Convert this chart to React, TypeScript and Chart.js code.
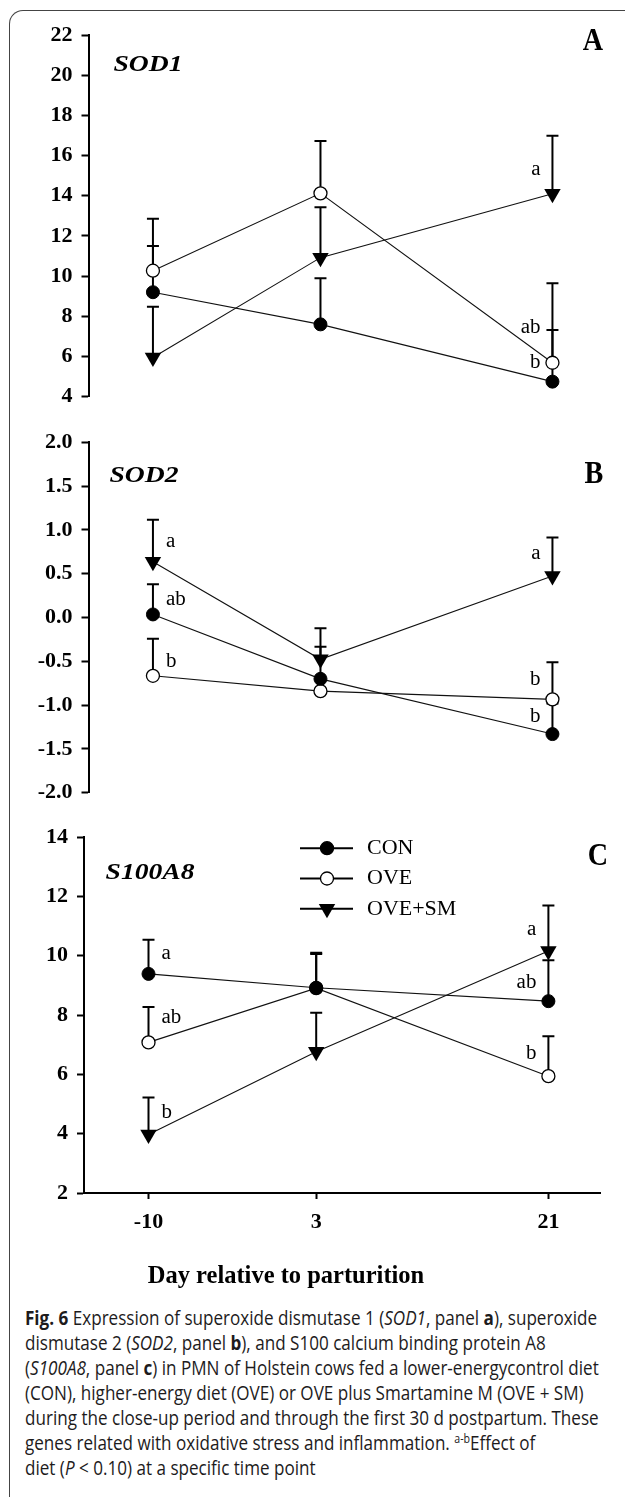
import React, { useEffect, useLayoutEffect, useRef } from 'react';
import { Chart, registerables } from 'chart.js';

Chart.register(...registerables);

// ---------- data ----------
const DAYS = [-10, 3, 21];
const SERIES = ['CON', 'OVE', 'OVE+SM'];
const X_RANGE = [-15, 25];

// Panel A – SOD1 (min, max, step)
const SOD1_AXIS = [4, 22, 2];
const SOD1_CON = [9.2, 7.6, 4.75];
const SOD1_OVE = [10.27, 14.12, 5.69];
const SOD1_SM = [5.95, 10.92, 14.1];
const SOD1_CON_UP = [11.5, 9.89, 7.32];
const SOD1_OVE_UP = [12.85, 16.73, 9.64];
const SOD1_SM_UP = [8.48, 13.43, 16.98];
const SOD1_LETTERS: [number, number, string][] = [
  [21, 15.28, 'a'],
  [21, 7.42, 'ab'],
  [21, 5.68, 'b'],
];

// Panel B – SOD2
const SOD2_AXIS = [-2, 2, 0.5];
const SOD2_CON = [0.035, -0.7, -1.33];
const SOD2_OVE = [-0.665, -0.84, -0.934];
const SOD2_SM = [0.635, -0.477, 0.474];
const SOD2_CON_UP = [0.378, -0.334, -0.98];
const SOD2_OVE_UP = [-0.242, null, -0.51];
const SOD2_SM_UP = [1.116, -0.123, 0.913];
const SOD2_LETTERS: [number, number, string][] = [
  [-10, 0.861, 'a'],
  [-10, 0.197, 'ab'],
  [-10, -0.5, 'b'],
  [21, 0.728, 'a'],
  [21, -0.71, 'b'],
  [21, -1.13, 'b'],
];

// Panel C – S100A8
const S100_AXIS = [2, 14, 2];
const S100_CON = [9.39, 8.92, 8.47];
const S100_OVE = [7.08, 8.91, 5.94];
const S100_SM = [3.97, 6.76, 10.16];
const S100_CON_UP = [10.54, 10.1, 9.85];
const S100_OVE_UP = [8.27, 10.06, 7.29];
const S100_SM_UP = [5.22, 8.08, 11.7];
const S100_LETTERS: [number, number, string][] = [
  [-10, 10.07, 'a'],
  [-10, 7.91, 'ab'],
  [-10, 4.69, 'b'],
  [21, 10.87, 'a'],
  [21, 9.08, 'ab'],
  [21, 6.68, 'b'],
];

const X_TITLE = 'Day relative to parturition';

// ---------- layout / style ----------
const W = 625;
const SERIF = "'Liberation Serif', 'Times New Roman', serif";
const Y_AXIS_W = 80;
const X_AXIS_H = 60;
const TRI_R = 9.5;
const CIRC_R = 6.5;

type Panel = {
  canvasTop: number;
  canvasH: number;
  area: [number, number, number, number]; // left, top, right, bottom
  axis: number[];
  decimals: number;
  values: number[][];
  upper: (number | null)[][];
  letters: [number, number, string][];
  title: string;
  titleAt: [number, number];
  tag: string;
  tagAt: [number, number];
  xAxis: boolean;
  legend: boolean;
};

const PANELS: Panel[] = [
  {
    canvasTop: 0, canvasH: 420, area: [88.5, 35, 604, 396.7], axis: SOD1_AXIS, decimals: 0,
    values: [SOD1_CON, SOD1_OVE, SOD1_SM], upper: [SOD1_CON_UP, SOD1_OVE_UP, SOD1_SM_UP],
    letters: SOD1_LETTERS, title: 'SOD1', titleAt: [25, 30], tag: 'A', tagAt: [-11, 7],
    xAxis: false, legend: false,
  },
  {
    canvasTop: 420, canvasH: 395, area: [88.5, 434, 604, 795.7], axis: SOD2_AXIS, decimals: 1,
    values: [SOD2_CON, SOD2_OVE, SOD2_SM], upper: [SOD2_CON_UP, SOD2_OVE_UP, SOD2_SM_UP],
    letters: SOD2_LETTERS, title: 'SOD2', titleAt: [21, 34], tag: 'B', tagAt: [-10, 33],
    xAxis: false, legend: false,
  },
  {
    canvasTop: 815, canvasH: 485, area: [84, 831.7, 600, 1193], axis: S100_AXIS, decimals: 0,
    values: [S100_CON, S100_OVE, S100_SM], upper: [S100_CON_UP, S100_OVE_UP, S100_SM_UP],
    letters: S100_LETTERS, title: 'S100A8', titleAt: [21.6, 36], tag: 'C', tagAt: [-2, 20],
    xAxis: true, legend: true,
  },
];

function stretchText(ctx: CanvasRenderingContext2D, text: string, x: number, y: number, font: string, align: CanvasTextAlign, sx: number) {
  ctx.save();
  ctx.font = font;
  ctx.textAlign = align;
  ctx.textBaseline = 'middle';
  ctx.translate(x, y);
  ctx.scale(sx, 1);
  ctx.fillText(text, 0, 0);
  ctx.restore();
}

function drawMarker(ctx: CanvasRenderingContext2D, kind: number, x: number, y: number) {
  ctx.save();
  ctx.strokeStyle = '#000';
  if (kind === 2) {
    ctx.fillStyle = '#000';
    ctx.beginPath();
    ctx.moveTo(x, y + TRI_R);
    ctx.lineTo(x - TRI_R * 0.866, y - TRI_R / 2);
    ctx.lineTo(x + TRI_R * 0.866, y - TRI_R / 2);
    ctx.closePath();
    ctx.fill();
  } else {
    ctx.fillStyle = kind === 0 ? '#000' : '#fff';
    ctx.lineWidth = 1.3;
    ctx.beginPath();
    ctx.arc(x, y, CIRC_R, 0, Math.PI * 2);
    ctx.fill();
    ctx.stroke();
  }
  ctx.restore();
}

function makePlugin(p: Panel) {
  return {
    id: 'panelExtras',
    beforeDatasetsDraw(chart: any) {
      const { ctx } = chart;
      const xs = chart.scales.x;
      const ys = chart.scales.y;
      ctx.save();
      ctx.strokeStyle = '#000';
      ctx.lineWidth = 2;
      p.upper.forEach((ups, i) =>
        ups.forEach((u, j) => {
          if (u == null) return;
          const x = xs.getPixelForValue(DAYS[j]);
          const y0 = ys.getPixelForValue(p.values[i][j]);
          const y1 = ys.getPixelForValue(u);
          ctx.beginPath();
          ctx.moveTo(x, y0);
          ctx.lineTo(x, y1);
          ctx.moveTo(x - 6, y1);
          ctx.lineTo(x + 6, y1);
          ctx.stroke();
        })
      );
      ctx.restore();
    },
    afterDraw(chart: any) {
      const { ctx, chartArea } = chart;
      const xs = chart.scales.x;
      const ys = chart.scales.y;
      ctx.save();
      ctx.fillStyle = '#000';
      // significance letters
      p.letters.forEach(([d, v, t]) => {
        const x = xs.getPixelForValue(d);
        const y = ys.getPixelForValue(v);
        const left = d < 0;
        stretchText(ctx, t, left ? x + 13 : x - 12, y, `20px ${SERIF}`, left ? 'left' : 'right', 1.05);
      });
      // gene title
      stretchText(ctx, p.title, chartArea.left + p.titleAt[0], chartArea.top + p.titleAt[1], `italic bold 24px ${SERIF}`, 'left', 1.15);
      // panel tag
      stretchText(ctx, p.tag, chartArea.right + p.tagAt[0], chartArea.top + p.tagAt[1], `bold 32px ${SERIF}`, 'center', 0.88);
      // legend
      if (p.legend) {
        const x0 = chartArea.left + 216;
        SERIES.forEach((name, i) => {
          const y = chartArea.top + 11 + i * 30.3;
          ctx.save();
          ctx.strokeStyle = '#000';
          ctx.lineWidth = 2;
          ctx.beginPath();
          ctx.moveTo(x0, y);
          ctx.lineTo(x0 + 53, y);
          ctx.stroke();
          ctx.restore();
          drawMarker(ctx, i, x0 + 27, y);
          stretchText(ctx, name, x0 + 67, y, `22px ${SERIF}`, 'left', 1.0);
        });
      }
      // x title
      if (p.xAxis) {
        stretchText(ctx, X_TITLE, 286, 1277 - p.canvasTop, `bold 25px ${SERIF}`, 'center', 0.98);
      }
      ctx.restore();
    },
  };
}

function makeChart(canvas: HTMLCanvasElement, p: Panel) {
  const [aL, aT, aR, aB] = p.area;
  const padding = {
    left: aL - Y_AXIS_W,
    top: aT - p.canvasTop,
    right: W - aR,
    bottom: p.canvasTop + p.canvasH - aB - (p.xAxis ? X_AXIS_H : 0),
  };
  const styles = [
    { pointStyle: 'circle', pointRadius: CIRC_R, pointBackgroundColor: '#000', pointBorderColor: '#000', pointBorderWidth: 1, pointRotation: 0 },
    { pointStyle: 'circle', pointRadius: CIRC_R, pointBackgroundColor: '#fff', pointBorderColor: '#000', pointBorderWidth: 1.3, pointRotation: 0 },
    { pointStyle: 'triangle', pointRadius: TRI_R, pointBackgroundColor: '#000', pointBorderColor: '#000', pointBorderWidth: 0, pointRotation: 180 },
  ];
  const tickFont = { family: SERIF, size: 22, weight: 'bold' as const };
  return new Chart(canvas, {
    type: 'line',
    data: {
      datasets: p.values.map((vals, i) => ({
        label: SERIES[i],
        data: DAYS.map((d, j) => ({ x: d, y: vals[j] })),
        borderColor: '#111',
        borderWidth: 1.1,
        fill: false,
        tension: 0,
        clip: false as any,
        ...styles[i],
      })) as any,
    },
    options: {
      responsive: false,
      animation: false,
      events: [],
      layout: { padding, autoPadding: false } as any,
      plugins: { legend: { display: false }, tooltip: { enabled: false }, title: { display: false } },
      scales: {
        x: p.xAxis
          ? {
              type: 'linear',
              min: X_RANGE[0],
              max: X_RANGE[1],
              afterBuildTicks: (s: any) => {
                s.ticks = DAYS.map((v) => ({ value: v }));
              },
              afterFit: (s: any) => {
                s.height = X_AXIS_H;
              },
              grid: { drawOnChartArea: false, drawTicks: true, tickLength: 6, tickWidth: 2, tickColor: '#000' },
              border: { display: true, color: '#000', width: 2 },
              ticks: { color: '#000', font: tickFont, padding: 10, maxRotation: 0, autoSkip: false, callback: (v: any) => String(v) },
            }
          : { type: 'linear', min: X_RANGE[0], max: X_RANGE[1], display: false },
        y: {
          type: 'linear',
          min: p.axis[0],
          max: p.axis[1],
          afterFit: (s: any) => {
            s.width = Y_AXIS_W;
          },
          grid: { drawOnChartArea: false, drawTicks: true, tickLength: 7, tickWidth: 2, tickColor: '#000' },
          border: { display: true, color: '#000', width: 2 },
          ticks: {
            stepSize: p.axis[2],
            autoSkip: false,
            color: '#000',
            font: tickFont,
            padding: 9,
            callback: (v: any) => Number(v).toFixed(p.decimals),
          },
        },
      } as any,
    },
    plugins: [makePlugin(p) as any],
  });
}

const CAPTION: React.ReactNode[] = [
  <><b>Fig. 6</b> Expression of superoxide dismutase 1 (<i>SOD1</i>, panel <b>a</b>), superoxide</>,
  <>dismutase 2 (<i>SOD2</i>, panel <b>b</b>), and S100 calcium binding protein A8</>,
  <>(<i>S100A8</i>, panel <b>c</b>) in PMN of Holstein cows fed a lower-energycontrol diet</>,
  <>(CON), higher-energy diet (OVE) or OVE plus Smartamine M (OVE + SM)</>,
  <>during the close-up period and through the first 30 d postpartum. These</>,
  <>genes related with oxidative stress and inflammation. <sup style={{ fontSize: '0.62em', verticalAlign: '0.55em', lineHeight: 0 }}>a-b</sup>Effect of</>,
  <>diet (<i>P</i> &lt; 0.10) at a specific time point</>,
];

export default function App() {
  const refs = [useRef<HTMLCanvasElement>(null), useRef<HTMLCanvasElement>(null), useRef<HTMLCanvasElement>(null)];
  const capRef = useRef<HTMLDivElement>(null);
  const line1Ref = useRef<HTMLSpanElement>(null);

  useEffect(() => {
    const charts = PANELS.map((p, k) => makeChart(refs[k].current!, p));
    return () => charts.forEach((c) => c.destroy());
  }, []);

  useLayoutEffect(() => {
    if (line1Ref.current && capRef.current) {
      const w = line1Ref.current.getBoundingClientRect().width;
      if (w > 0) capRef.current.style.transform = `scaleX(${572 / w})`;
    }
  }, []);

  return (
    <div style={{ position: 'absolute', left: 0, top: 0, width: W, height: 1497, overflow: 'hidden', background: '#fff' }}>
      <div
        style={{
          position: 'absolute', left: 9, top: 10, width: 700, height: 1600,
          borderTop: '1.5px solid #444', borderLeft: '1.5px solid #444', borderTopLeftRadius: 14,
        }}
      />
      {PANELS.map((p, k) => (
        <canvas key={k} ref={refs[k]} width={W} height={p.canvasH} style={{ position: 'absolute', left: 0, top: p.canvasTop, width: W, height: p.canvasH }} />
      ))}
      <div
        ref={capRef}
        style={{
          position: 'absolute', left: 25, top: 1304.5, transformOrigin: 'left top',
          fontFamily: "'Open Sans', 'Noto Sans', sans-serif", fontSize: 19.5, lineHeight: '25px', color: '#1d1b1c', whiteSpace: 'nowrap',
        }}
      >
        {CAPTION.map((c, i) => (
          <div key={i} style={{ height: 25 }}>
            <span ref={i === 0 ? line1Ref : undefined} style={{ display: 'inline-block' }}>{c}</span>
          </div>
        ))}
      </div>
    </div>
  );
}
